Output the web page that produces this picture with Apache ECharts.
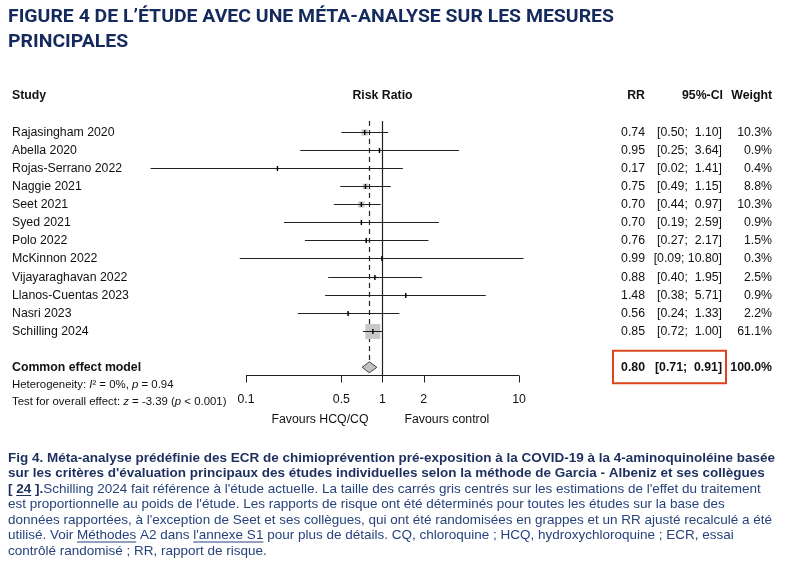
<!DOCTYPE html>
<html><head><meta charset="utf-8">
<script src="https://cdn.jsdelivr.net/npm/echarts@6/dist/echarts.min.js"></script>
<style>html,body{margin:0;padding:0;background:#fff}#c{width:800px;height:565px}</style>
</head><body><div id="c"></div>
<script>
// ---------- data ----------
const studies = ['Rajasingham 2020','Abella 2020','Rojas-Serrano 2022','Naggie 2021','Seet 2021','Syed 2021','Polo 2022','McKinnon 2022','Vijayaraghavan 2022','Llanos-Cuentas 2023','Nasri 2023','Schilling 2024'];
const rr      = [0.74, 0.95, 0.17, 0.75, 0.70, 0.70, 0.76, 0.99, 0.88, 1.48, 0.56, 0.85];
const ciLow   = [0.50, 0.25, 0.02, 0.49, 0.44, 0.19, 0.27, 0.09, 0.40, 0.38, 0.24, 0.72];
const ciHigh  = [1.10, 3.64, 1.41, 1.15, 0.97, 2.59, 2.17, 10.80, 1.95, 5.71, 1.33, 1.00];
const weights = [10.3, 0.9, 0.4, 8.8, 10.3, 0.9, 1.5, 0.3, 2.5, 0.9, 2.2, 61.1];
const pooledLabel = 'Common effect model';
const pooledRR = 0.80, pooledLow = 0.71, pooledHigh = 0.91, pooledWeight = 100.0;
const heterogeneityText = 'Heterogeneity: {i|I}² = 0%, {i|p} = 0.94';
const overallText = 'Test for overall effect: {i|z} = -3.39 ({i|p} < 0.001)';
const axisTicks = [0.1, 0.5, 1, 2, 10];
const axisTickLabels = ['0.1', '0.5', '1', '2', '10'];
const headers = ['Study', 'Risk Ratio', 'RR', '95%-CI', 'Weight'];
const favourLeft = 'Favours HCQ/CQ', favourRight = 'Favours control';
const titleLines = ['FIGURE 4 DE L\u2019ÉTUDE AVEC UNE MÉTA-ANALYSE SUR LES MESURES', 'PRINCIPALES'];
const captionBold = ['Fig 4. Méta-analyse prédéfinie des ECR de chimioprévention pré-exposition à la COVID-19 à la 4-aminoquinoléine basée',
  'sur les critères d\'évaluation principaux des études individuelles selon la méthode de Garcia - Albeniz et ses collègues'];
const captionRef = ['[ ', '24', ' ].'];
const captionNormal = ['Schilling 2024 fait référence à l\'étude actuelle. La taille des carrés gris centrés sur les estimations de l\'effet du traitement',
  'est proportionnelle au poids de l\'étude. Les rapports de risque ont été déterminés pour toutes les études sur la base des',
  'données rapportées, à l\'exception de Seet et ses collègues, qui ont été randomisées en grappes et un RR ajusté recalculé a été',
  'utilisé. Voir Méthodes A2 dans l\'annexe S1 pour plus de détails. CQ, chloroquine ; HCQ, hydroxychloroquine ; ECR, essai',
  'contrôlé randomisé ; RR, rapport de risque.'];
const captionLinks = ['Méthodes', 'l\'annexe S1'];

// ---------- layout ----------
const FONT = "'Liberation Sans', Arial, Helvetica, sans-serif";
const FS = 12.3;
const F_N = FS + 'px ' + FONT, F_B = 'bold ' + FS + 'px ' + FONT;
const TXT = '#111';
const COL_STUDY = 12, COL_RR = 645, COL_CI = 722, COL_W = 772;
const HEADER_ROW = -2, POOLED_ROW = 13, AXIS_ROW = 13.45, HET_ROW = 13.97, TEST_ROW = 14.9;
const SQ_MAX = 15;
const maxW = Math.max.apply(null, weights);

const mctx = document.createElement('canvas').getContext('2d');
function tw(t, f) { mctx.font = f; return mctx.measureText(t).width; }
function fmtCI(lo, hi) { return '[' + lo.toFixed(2) + '; ' + hi.toFixed(2).padStart(5, ' ') + ']'; }
function T(text, x, y, align, font, fill) {
  return { type: 'text', x: x, y: y, silent: true,
    style: { text: text, font: font || F_N, fill: fill || TXT, align: align || 'left', verticalAlign: 'middle' } };
}

const studyData = studies.map((s, i) => [rr[i], i, ciLow[i], ciHigh[i], weights[i]]);

function renderStudy(params, api) {
  const i = api.value(1);
  const pE = api.coord([api.value(0), i]);
  const pL = api.coord([api.value(2), i]);
  const pH = api.coord([api.value(3), i]);
  const y = Math.round(pE[1]) + 0.5;
  const side = Math.max(SQ_MAX * Math.sqrt(api.value(4) / maxW), 1);
  return { type: 'group', children: [
    { type: 'rect', shape: { x: pE[0] - side / 2, y: y - side / 2, width: side, height: side }, style: { fill: '#c8c8c8' } },
    { type: 'line', shape: { x1: pL[0], y1: y, x2: pH[0], y2: y }, style: { stroke: '#222', lineWidth: 1 } },
    { type: 'line', shape: { x1: pE[0], y1: y - 2.5, x2: pE[0], y2: y + 2.5 }, style: { stroke: '#000', lineWidth: 1.4 } },
    T(studies[i], COL_STUDY, y),
    T(rr[i].toFixed(2), COL_RR, y, 'right'),
    T(fmtCI(ciLow[i], ciHigh[i]), COL_CI, y, 'right'),
    T(weights[i].toFixed(1) + '%', COL_W, y, 'right')
  ] };
}

function renderPooled(params, api) {
  const pE = api.coord([pooledRR, POOLED_ROW]);
  const pL = api.coord([pooledLow, POOLED_ROW]);
  const pH = api.coord([pooledHigh, POOLED_ROW]);
  const p1top = api.coord([1, -0.58]);
  const pAxis = api.coord([1, AXIS_ROW]);
  const y = pE[1];
  const hh = 5.5;
  const xRef = Math.round(pAxis[0]) + 0.5, xPool = Math.round(pE[0]) + 0.5;
  return { type: 'group', children: [
    { type: 'line', shape: { x1: xRef, y1: p1top[1], x2: xRef, y2: Math.round(pAxis[1]) }, style: { stroke: '#222', lineWidth: 1.2 } },
    { type: 'line', shape: { x1: xPool, y1: p1top[1], x2: xPool, y2: y - hh }, style: { stroke: '#222', lineWidth: 1.2, lineDash: [5, 4] } },
    { type: 'polygon', shape: { points: [[pL[0], y], [pE[0], y - hh], [pH[0], y], [pE[0], y + hh]] }, style: { fill: '#c2c2c2', stroke: '#444', lineWidth: 1 } },
    T(pooledLabel, COL_STUDY, y, 'left', F_B),
    T(pooledRR.toFixed(2), COL_RR, y, 'right', F_B),
    T(fmtCI(pooledLow, pooledHigh), COL_CI, y, 'right', F_B),
    T(pooledWeight.toFixed(1) + '%', COL_W, y, 'right', F_B),
    { type: 'rect', shape: { x: 613, y: y - 16.5, width: 113, height: 32.5 }, style: { fill: 'none', stroke: '#d9461b', lineWidth: 2 } }
  ] };
}

function renderAxis(params, api) {
  const ch = [];
  const a0 = api.coord([axisTicks[0], AXIS_ROW]);
  const a1 = api.coord([axisTicks[axisTicks.length - 1], AXIS_ROW]);
  const ay = Math.round(a0[1]) + 0.5;
  ch.push({ type: 'line', shape: { x1: a0[0], y1: ay, x2: a1[0], y2: ay }, style: { stroke: '#222', lineWidth: 1 } });
  axisTicks.forEach((v, k) => {
    const p = api.coord([v, AXIS_ROW]);
    const x = Math.round(p[0]) + 0.5;
    ch.push({ type: 'line', shape: { x1: x, y1: ay, x2: x, y2: ay + 7 }, style: { stroke: '#222', lineWidth: 1 } });
    ch.push(T(axisTickLabels[k], p[0], ay + 24.5, 'center'));
  });
  const one = api.coord([1, AXIS_ROW]);
  ch.push(T(favourLeft, one[0] - 14, ay + 44, 'right'));
  ch.push(T(favourRight, one[0] + 22, ay + 44, 'left'));
  // header row
  const h = api.coord([1, HEADER_ROW]);
  ch.push(T(headers[0], COL_STUDY, h[1], 'left', F_B));
  ch.push(T(headers[1], h[0], h[1], 'center', F_B));
  ch.push(T(headers[2], COL_RR, h[1], 'right', F_B));
  ch.push(T(headers[3], COL_CI + 1, h[1], 'right', F_B));
  ch.push(T(headers[4], COL_W, h[1], 'right', F_B));
  // heterogeneity / overall test
  const sFS = 11.4;
  const rich = { i: { fontStyle: 'italic', fontSize: sFS, fontFamily: FONT, fill: TXT } };
  [[heterogeneityText, HET_ROW], [overallText, TEST_ROW]].forEach(([t, r]) => {
    const p = api.coord([1, r]);
    ch.push({ type: 'text', x: COL_STUDY, y: p[1], silent: true,
      style: { text: t, fontSize: sFS, fontFamily: FONT, fill: TXT, align: 'left', verticalAlign: 'middle', rich: rich } });
  });
  return { type: 'group', children: ch };
}

// ---------- title & caption (graphic) ----------
const g = [];
const TITLE_FONT = "bold 18px Roboto, 'Liberation Sans', sans-serif";
const tScale = 606 / tw(titleLines[0], TITLE_FONT);
titleLines.forEach((t, k) => {
  g.push({ type: 'text', x: 8, y: 17.5 + k * 24.5, scaleX: tScale, silent: true,
    style: { text: t, font: TITLE_FONT, fill: '#152a5c', align: 'left', verticalAlign: 'middle' } });
});
const CB = 'bold 12.8px ' + FONT, CN = '12.8px ' + FONT;
const CB_COL = '#1c2f5e', CN_COL = '#27437c';
const sb = 767 / tw(captionBold[0], CB);
const sn = 764 / tw(captionNormal[2], CN);
const CAP_Y0 = 458, CAP_DY = 15.5;
function capText(t, x, y, f, s, c) {
  g.push({ type: 'text', x: x, y: y, scaleX: s, silent: true, style: { text: t, font: f, fill: c, align: 'left', verticalAlign: 'middle' } });
}
function underline(x1, x2, y, c) {
  g.push({ type: 'line', silent: true, shape: { x1: x1, y1: y + 6.5, x2: x2, y2: y + 6.5 }, style: { stroke: c, lineWidth: 1 } });
}
capText(captionBold[0], 8, CAP_Y0, CB, sb, CB_COL);
capText(captionBold[1], 8, CAP_Y0 + CAP_DY, CB, sb, CB_COL);
// line 3
const y3 = CAP_Y0 + 2 * CAP_DY;
const refStr = captionRef.join('');
capText(refStr, 8, y3, CB, sb, CB_COL);
const u0 = 8 + tw(captionRef[0], CB) * sb, u1 = u0 + tw(captionRef[1], CB) * sb;
underline(u0, u1, y3, CB_COL);
capText(captionNormal[0], 8 + tw(refStr, CB) * sb, y3, CN, sn, CN_COL);
for (let k = 1; k < captionNormal.length; k++) {
  const yy = CAP_Y0 + (k + 2) * CAP_DY;
  capText(captionNormal[k], 8, yy, CN, sn, CN_COL);
  captionLinks.forEach(lk => {
    const idx = captionNormal[k].indexOf(lk);
    if (idx >= 0) {
      const xa = 8 + tw(captionNormal[k].slice(0, idx), CN) * sn;
      const xb = xa + tw(lk, CN) * sn;
      underline(xa, xb, yy, CN_COL);
    }
  });
}

// ---------- chart ----------
const chart = echarts.init(document.getElementById('c'), null, { renderer: 'canvas' });
chart.setOption({
  animation: false,
  backgroundColor: '#ffffff',
  grid: { left: 109.5, width: 546, top: 77.1, height: 344.6, containLabel: false },
  xAxis: { type: 'log', logBase: 10, min: 0.01, max: 100, show: false },
  yAxis: { type: 'value', min: -3, max: 16, inverse: true, show: false },
  series: [
    { type: 'custom', name: 'studies', renderItem: renderStudy, data: studyData, encode: { x: [0, 2, 3], y: 1 }, clip: false, silent: true, z: 3 },
    { type: 'custom', name: 'pooled', renderItem: renderPooled, data: [[pooledRR, POOLED_ROW]], encode: { x: 0, y: 1 }, clip: false, silent: true, z: 2 },
    { type: 'custom', name: 'axis', renderItem: renderAxis, data: [[1, AXIS_ROW]], encode: { x: 0, y: 1 }, clip: false, silent: true, z: 2 }
  ],
  graphic: { elements: g }
});
</script></body></html>
